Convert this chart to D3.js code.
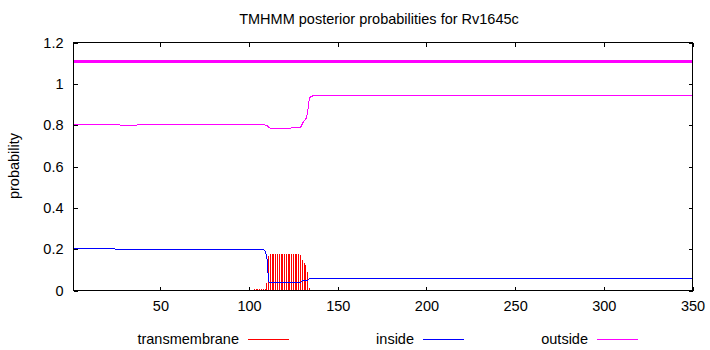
<!DOCTYPE html>
<html>
<head>
<meta charset="utf-8">
<script src="https://cdn.jsdelivr.net/npm/d3@7"></script>
<style>
  html, body { margin: 0; padding: 0; background: #fff; }
  svg { display: block; font-family: "Liberation Sans", Arial, sans-serif; }
  text { fill: #000; }
</style>
</head>
<body>
<svg id="chart" width="710" height="350"></svg>
<script>
// Posterior probabilities per residue (TMHMM) for Rv1645c.
const title = "TMHMM posterior probabilities for Rv1645c";
const seqLength = 350;

// inside probability: breakpoints of the per-residue trace
const insideResidue = [1, 24, 25, 108, 109, 110, 111, 112, 129, 130, 132, 133, 134, 350];
const insideProb    = [0.203, 0.203, 0.198, 0.198, 0.192, 0.166, 0.043, 0.038, 0.039, 0.046, 0.048, 0.050, 0.058, 0.058];

// outside probability: breakpoints of the per-residue trace
const outsideResidue = [1, 27, 28, 36, 37, 109, 110, 111, 112, 123, 124, 128, 129, 130, 131, 132, 133, 134, 135, 136, 350];
const outsideProb    = [0.802, 0.802, 0.797, 0.797, 0.801, 0.801, 0.800, 0.790, 0.784, 0.784, 0.789, 0.789, 0.788, 0.806, 0.822, 0.829, 0.860, 0.932, 0.938, 0.942, 0.942];

// transmembrane probability: residues with a non-zero value
const tmResidue = [18, 22, 23, 24, 25, 26, 27, 28, 29, 30, 31, 32, 33, 34, 35, 36, 37, 38, 39, 40, 41, 42, 43, 44, 45, 46, 47, 48, 49,
                   101, 103, 104, 105, 106, 107, 108, 109, 110, 111,
                   112, 113, 114, 115, 116, 117, 118, 119, 120, 121, 122, 123, 124, 125, 126, 127, 128,
                   129, 130, 131, 132, 133, 134, 135, 136, 326, 330, 339];
const tmProb = [0.004, 0.004, 0.004, 0.004, 0.004, 0.004, 0.004, 0.004, 0.004, 0.004, 0.004, 0.004, 0.004, 0.004, 0.004, 0.004, 0.004, 0.004, 0.004, 0.004, 0.004, 0.004, 0.004, 0.004, 0.004, 0.004, 0.004, 0.004, 0.004,
                0.004, 0.006, 0.006, 0.006, 0.006, 0.006, 0.006, 0.006, 0.034, 0.167,
                0.178, 0.178, 0.178, 0.178, 0.178, 0.178, 0.178, 0.178, 0.178, 0.178, 0.178, 0.178, 0.178, 0.178, 0.178, 0.178, 0.178,
                0.173, 0.148, 0.132, 0.123, 0.090, 0.010, 0.004, 0.004, 0.004, 0.004, 0.004];

// predicted topology drawn as a band above the curves
const topologyStart = [1];
const topologyEnd   = [350];
const topologyClass = ["outside"];
const topologyLevel = 1.11;

const xTicks = [50, 100, 150, 200, 250, 300, 350];
const yTicks = [0, 0.2, 0.4, 0.6, 0.8, 1, 1.2];
const yTickLabels = ["0", "0.2", "0.4", "0.6", "0.8", "1", "1.2"];

const legendNames  = ["transmembrane", "inside", "outside"];
const legendColors = ["#ff0000", "#0000ff", "#ff00ff"];
const classColor = { transmembrane: "#ff0000", inside: "#0000ff", outside: "#ff00ff" };

const svg = d3.select("#chart");
const fontSize = 14.5;

const x = d3.scaleLinear().domain([1, seqLength]).range([73.5, 692.5]);
const y = d3.scaleLinear().domain([0, 1.2]).range([290.5, 42.5]);

const plot = svg.append("g");

// transmembrane impulses
plot.append("g")
  .attr("shape-rendering", "crispEdges")
  .selectAll("line")
  .data(tmResidue.map((r, i) => ({ r, p: tmProb[i] })))
  .join("line")
  .attr("x1", d => Math.round(x(d.r) - 0.5) + 0.5)
  .attr("x2", d => Math.round(x(d.r) - 0.5) + 0.5)
  .attr("y1", y(0))
  .attr("y2", d => y(d.p))
  .attr("stroke", classColor.transmembrane)
  .attr("stroke-width", 1);

const line = d3.line().x(d => x(d[0])).y(d => y(d[1]));

plot.append("path")
  .datum(insideResidue.map((r, i) => [r, insideProb[i]]))
  .attr("d", line)
  .attr("fill", "none")
  .attr("stroke", classColor.inside)
  .attr("stroke-width", 1)
  .attr("shape-rendering", "crispEdges");

plot.append("path")
  .datum(outsideResidue.map((r, i) => [r, outsideProb[i]]))
  .attr("d", line)
  .attr("fill", "none")
  .attr("stroke", classColor.outside)
  .attr("stroke-width", 1)
  .attr("shape-rendering", "crispEdges");

// topology band
plot.append("g")
  .attr("shape-rendering", "crispEdges")
  .selectAll("line")
  .data(topologyStart.map((s, i) => ({ s, e: topologyEnd[i], c: topologyClass[i] })))
  .join("line")
  .attr("x1", d => x(d.s))
  .attr("x2", d => x(d.e))
  .attr("y1", y(topologyLevel))
  .attr("y2", y(topologyLevel))
  .attr("stroke", d => classColor[d.c])
  .attr("stroke-width", 3);

// axes with inward ticks, mirrored on top and right
function styleAxis(g) {
  g.attr("shape-rendering", "crispEdges");
  g.select(".domain").remove();
  g.selectAll(".tick line").attr("stroke", "#000");
  g.selectAll("text").attr("font-size", fontSize).attr("font-family", "Liberation Sans, Arial, sans-serif").attr("fill", "#000");
}

svg.append("g")
  .attr("transform", `translate(0,${y(0)})`)
  .call(d3.axisBottom(x).tickValues(xTicks).tickSizeInner(-4).tickSizeOuter(0).tickPadding(10).tickFormat(d3.format("d")))
  .call(styleAxis);

svg.append("g")
  .attr("transform", `translate(0,${y(1.2)})`)
  .call(d3.axisTop(x).tickValues(xTicks).tickSizeInner(-4).tickSizeOuter(0).tickFormat(""))
  .call(styleAxis);

svg.append("g")
  .attr("transform", `translate(${x(1)},0)`)
  .call(d3.axisLeft(y).tickValues(yTicks).tickSizeInner(-4).tickSizeOuter(0).tickPadding(10)
        .tickFormat((d, i) => yTickLabels[i]))
  .call(styleAxis);

svg.append("g")
  .attr("transform", `translate(${x(seqLength)},0)`)
  .call(d3.axisRight(y).tickValues(yTicks).tickSizeInner(-4).tickSizeOuter(0).tickFormat(""))
  .call(styleAxis);

// plot border
svg.append("rect")
  .attr("x", x(1)).attr("y", y(1.2))
  .attr("width", x(seqLength) - x(1)).attr("height", y(0) - y(1.2))
  .attr("fill", "none").attr("stroke", "#000").attr("stroke-width", 1)
  .attr("shape-rendering", "crispEdges");

// title
svg.append("text")
  .attr("x", 379).attr("y", 24)
  .attr("text-anchor", "middle")
  .attr("font-size", fontSize)
  .text(title);

// y axis label
svg.append("text")
  .attr("transform", "translate(19,166) rotate(-90)")
  .attr("text-anchor", "middle")
  .attr("font-size", fontSize)
  .text("probability");

// legend
const legendTextEnd = [239, 414, 588];
const legend = svg.append("g");
legendNames.forEach((name, i) => {
  legend.append("text")
    .attr("x", legendTextEnd[i]).attr("y", 344)
    .attr("text-anchor", "end")
    .attr("font-size", fontSize)
    .text(name);
  legend.append("line")
    .attr("x1", legendTextEnd[i] + 9).attr("x2", legendTextEnd[i] + 50)
    .attr("y1", 339.5).attr("y2", 339.5)
    .attr("stroke", legendColors[i]).attr("stroke-width", 1)
    .attr("shape-rendering", "crispEdges");
});
</script>
</body>
</html>
